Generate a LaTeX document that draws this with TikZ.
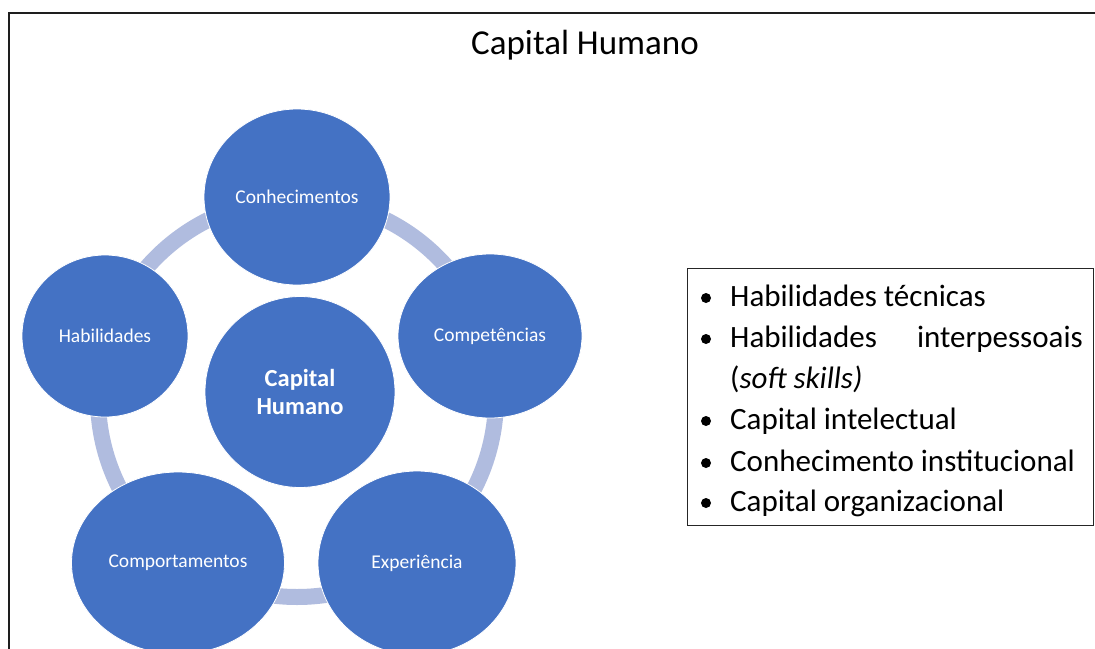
\documentclass[tikz,border=0pt]{standalone}
\usepackage{fontspec}
\setmainfont{Carlito}
\usetikzlibrary{shapes.geometric}
\definecolor{cblue}{RGB}{68,114,196}
\definecolor{cring}{RGB}{176,188,223}
\definecolor{cframe}{RGB}{30,30,30}
\begin{document}
\begin{tikzpicture}[x=1pt,y=-1pt,
  bubble/.style={ellipse, fill=cblue, draw=white, line width=0.8pt, inner sep=0pt,
    text=white, font=\fontsize{19.5}{22}\selectfont},
  ringline/.style={draw=cring, line width=16pt},
  frameline/.style={draw=cframe, line width=1.8pt},
  titletxt/.style={font=\fontsize{35}{40}\selectfont, inner sep=0pt},
  listtxt/.style={anchor=base west, inner sep=0pt, font=\fontsize{31}{37}\selectfont},
  listbox/.style={draw=black!85, line width=1pt, anchor=north west, inner sep=0pt},
  dot/.style={circle, fill=black, inner sep=0pt, minimum size=10pt}
]
\useasboundingbox (0,0) rectangle (1095,648);
\clip (0,0) rectangle (1095,648);
\fill[white] (0,0) rectangle (1095,648);

% frame
\coordinate (fbl) at (9,660);
\coordinate (ftl) at (9,13);
\coordinate (ftr) at (1110,13);
\draw[frameline] (fbl) -- (ftl) -- (ftr);

% title
\node[titletxt] (title) at (585,45) {Capital Humano};

% ring
\coordinate (rc) at (297,398);
\draw[ringline] (rc) circle[radius=199];

% bubbles
\node[bubble, minimum width=186, minimum height=176] (conh) at (297,197) {Conhecimentos};
\node[bubble, minimum width=166, minimum height=162] (hab) at (105,336) {Habilidades};
\node[bubble, minimum width=184, minimum height=164] (comp) at (490,336) {Competências};
\node[bubble, minimum width=190, minimum height=191, align=center,
      font=\fontsize{24.5}{28}\selectfont\bfseries] (chum) at (300,392) {Capital\\Humano};
\node[bubble, minimum width=213, minimum height=182] (compt) at (178,563) {Comportamentos};
\node[bubble, minimum width=198, minimum height=184] (exp) at (417,563) {Experiência};

% list box
\node[listbox, minimum width=406, minimum height=257] (box) at (687,268) {};
\node[dot] (d1) at (706,298) {};
\node[dot] (d2) at (706,339) {};
\node[dot] (d3) at (706,421) {};
\node[dot] (d4) at (706,463) {};
\node[dot] (d5) at (706,503) {};
\node[listtxt] (l1) at (730,306) {Habilidades técnicas};
\node[listtxt] (l2a) at (730,347) {Habilidades};
\node[listtxt, anchor=base east] (l2b) at (1083,347) {interpessoais};
\node[listtxt] (l2c) at (730,388) {(\textit{soft skills)}};
\node[listtxt] (l3) at (730,429) {Capital intelectual};
\node[listtxt] (l4) at (730,471) {Conhecimento institucional};
\node[listtxt] (l5) at (730,511) {Capital organizacional};
\end{tikzpicture}
\end{document}
